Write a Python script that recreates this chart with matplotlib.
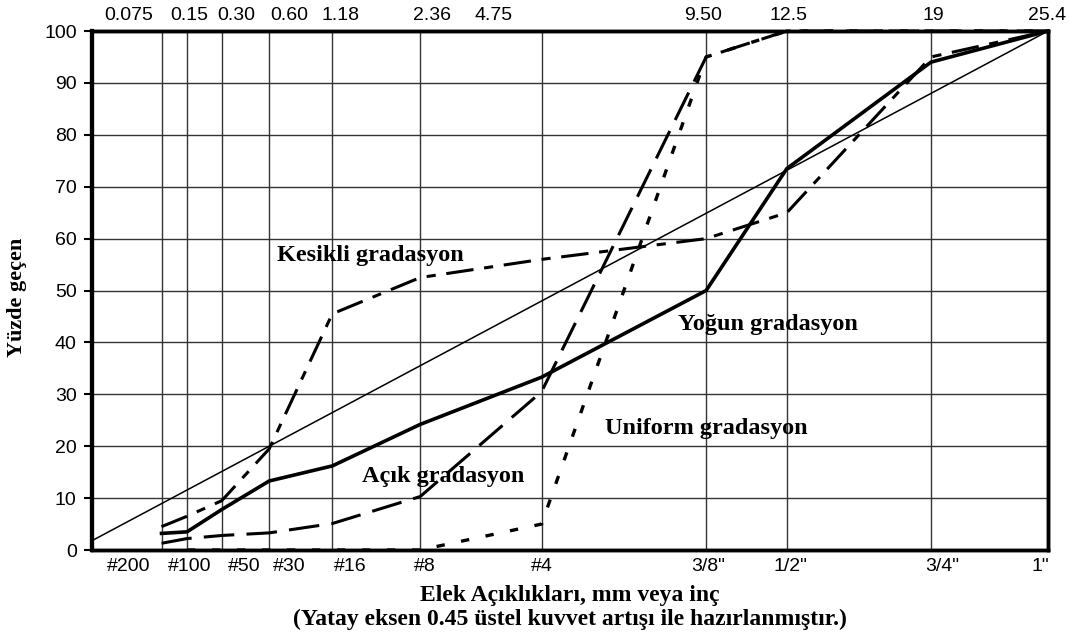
import numpy as np
import matplotlib
matplotlib.use("Agg")
import matplotlib.pyplot as plt
from matplotlib.transforms import ScaledTranslation

# elek boyutlari (mm) ve etiketler
sizes = [0.075, 0.15, 0.30, 0.60, 1.18, 2.36, 4.75, 9.50, 12.5, 19, 25.4]
top_labels = ["0.075", "0.15", "0.30", "0.60", "1.18", "2.36", "4.75", "9.50", "12.5", "19", "25.4"]
bottom_labels = ["#200", "#100", "#50", "#30", "#16", "#8", "#4", '3/8"', '1/2"', '3/4"', '1"']

# gradasyon egrileri (yuzde gecen)
yogun = [3.2, 3.5, 7.8, 13.3, 16.2, 24.2, 33.3, 50, 73.5, 94, 100]
acik = [1.3, 2.2, 2.8, 3.3, 5.1, 10.3, 30.5, 95, 100, 100, 100]
uniform_x = [0.15, 0.30, 0.60, 1.18, 2.36, 4.75, 9.50, 12.5, 19, 25.4]
uniform = [0, 0, 0, 0, 0, 5, 95, 100, 100, 100]
kesikli = [4.5, 6.5, 9.5, 19.5, 45.5, 52.5, 56, 60, 65, 95, 100]

# maksimum yogunluk cizgisi
maxd_x = [0, 25.4]
maxd_y = [1.8, 100]

# etiket kaydirmalari (piksel)
top_shift = [-33, 2, 15, 20, 8, 12, -48, -3, 2, 2, -1]
bottom_shift = [-33, 3, 22, 20, 18, 5, 0, 2, 4, 11, -8]


def fwd(x):
    x = np.asarray(x, dtype=float)
    return np.sign(x) * np.abs(x) ** 0.45


def inv(x):
    x = np.asarray(x, dtype=float)
    return np.sign(x) * np.abs(x) ** (1 / 0.45)


plt.rcParams['font.family'] = ['Liberation Sans', 'DejaVu Sans']
serif = dict(family=['Liberation Serif', 'DejaVu Serif'], weight='bold')

fig = plt.figure(figsize=(10.8, 6.33), dpi=100)
ax = fig.add_axes([0.0852, 0.1311, 0.8852, 0.8199])
ax.set_xscale('function', functions=(fwd, inv))
ax.set_xlim(0, 25.4)
ax.set_ylim(0, 100)

ax.grid(True, color='#333333', linewidth=1.0)
ax.set_axisbelow(True)

ax.plot(maxd_x, maxd_y, color='black', linewidth=1.1, clip_on=False)
ax.plot(sizes, yogun, color='black', linewidth=2.6, clip_on=False)
ax.plot(sizes, acik, color='black', linewidth=2.2, dashes=(10, 4), clip_on=False)
ax.plot(uniform_x, uniform, color='black', linewidth=2.4, dashes=(2.5, 5), clip_on=False)
ax.plot(sizes, kesikli, color='black', linewidth=2.2, dashes=(9, 3.5, 3, 3.5), clip_on=False)

ax.text(0.291, 0.568, "Kesikli gradasyon", transform=ax.transAxes, ha='center', va='center', fontsize=17.5, **serif)
ax.text(0.707, 0.434, "Yoğun gradasyon", transform=ax.transAxes, ha='center', va='center', fontsize=17.5, **serif)
ax.text(0.643, 0.235, "Uniform gradasyon", transform=ax.transAxes, ha='center', va='center', fontsize=17.5, **serif)
ax.text(0.367, 0.141, "Açık gradasyon", transform=ax.transAxes, ha='center', va='center', fontsize=17.5, **serif)

# y ekseni
ax.set_yticks(np.arange(0, 101, 10))
ax.tick_params(axis='y', length=6, width=1.5, pad=5, labelsize=14)
ax.set_ylabel("Yüzde geçen", fontsize=16, **serif)
ax.yaxis.set_label_coords(-0.068, 0.486)

# alt eksen
ax.set_xticks(sizes, bottom_labels)
ax.xaxis.set_minor_locator(plt.NullLocator())
ax.tick_params(axis='x', length=0, pad=6, labelsize=14)
for lab, dx in zip(ax.get_xticklabels(), bottom_shift):
    lab.set_transform(lab.get_transform() + ScaledTranslation(dx / 100, 0, fig.dpi_scale_trans))

# ust eksen
ax2 = ax.twiny()
ax2.set_xscale('function', functions=(fwd, inv))
ax2.set_xlim(0, 25.4)
ax2.set_xticks(sizes, top_labels)
ax2.xaxis.set_minor_locator(plt.NullLocator())
ax2.tick_params(axis='x', length=0, pad=5, labelsize=14)
for lab, dx in zip(ax2.get_xticklabels(), top_shift):
    lab.set_transform(lab.get_transform() + ScaledTranslation(dx / 100, 0, fig.dpi_scale_trans))

for a in (ax, ax2):
    for side in ['left', 'right', 'top', 'bottom']:
        a.spines[side].set_linewidth(2.5)
    a.spines['left'].set_linewidth(3)

fig.text(0.528, 0.040, "Elek Açıklıkları, mm veya inç\n(Yatay eksen 0.45 üstel kuvvet artışı ile hazırlanmıştır.)",
         ha='center', va='center', fontsize=17, linespacing=1.15, **serif)

fig.savefig("out.png", dpi=100)
